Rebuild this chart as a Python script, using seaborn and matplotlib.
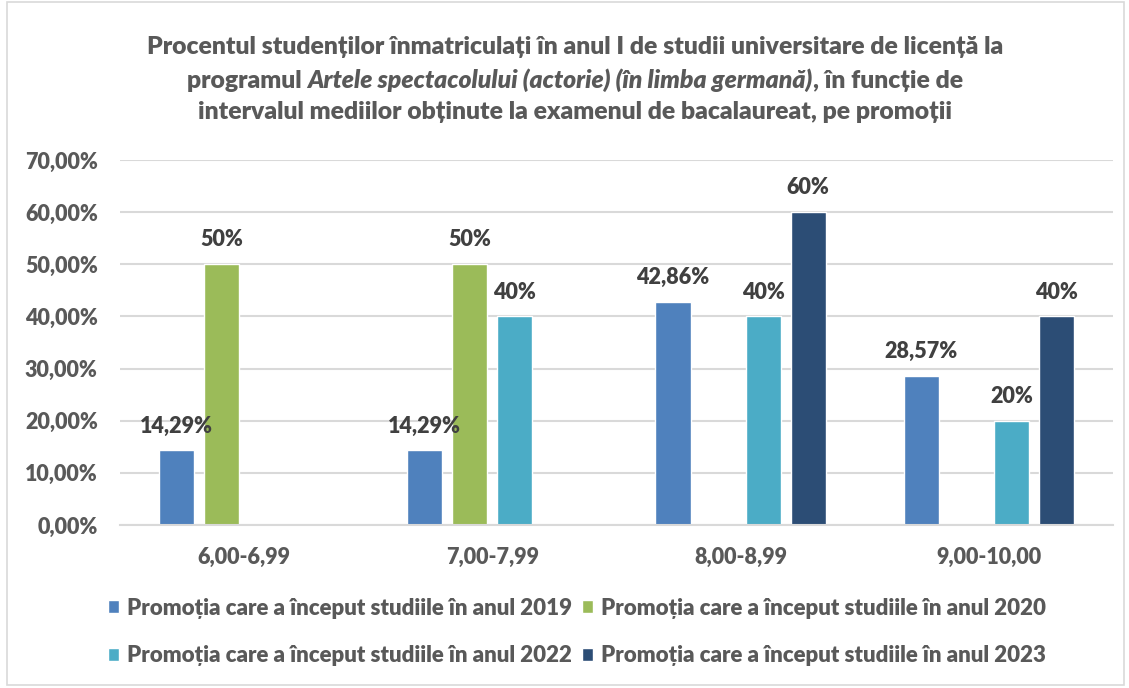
import numpy as np
import pandas as pd
import matplotlib
matplotlib.use("Agg")
import matplotlib.pyplot as plt
from matplotlib.ticker import FuncFormatter, MultipleLocator
from matplotlib.offsetbox import TextArea, HPacker, AnnotationBbox
from matplotlib.patches import Rectangle
import seaborn as sns

# ---- data ----
categories = ["6,00-6,99", "7,00-7,99", "8,00-8,99", "9,00-10,00"]
series = ["Promoția care a început studiile în anul 2019",
          "Promoția care a început studiile în anul 2020",
          "Promoția care a început studiile în anul 2022",
          "Promoția care a început studiile în anul 2023"]
val_2019 = [14.29, 14.29, 42.86, 28.57]
val_2020 = [50, 50, np.nan, np.nan]
val_2022 = [np.nan, 40, 40, 20]
val_2023 = [np.nan, np.nan, 60, 40]
colors = ["#4F81BD", "#9BBB59", "#4BACC6", "#2C4D75"]

rows = []
for s, vals in zip(series, [val_2019, val_2020, val_2022, val_2023]):
    for c, v in zip(categories, vals):
        rows.append({"interval": c, "promotia": s, "procent": v})
df = pd.DataFrame(rows)

# ---- style ----
sns.set_style("white")
plt.rcParams['font.family'] = ['Lato', 'DejaVu Sans']
W = "heavy"
plt.rcParams['font.weight'] = W
TXT = "#595959"
FS = 15.5

fig = plt.figure(figsize=(11.29, 6.88), dpi=100)
ax = fig.add_axes([120/1129, 1 - 525/688, 993/1129, 365/688])

sns.barplot(data=df, x="interval", y="procent", hue="promotia",
            order=categories, hue_order=series, palette=colors,
            width=0.726, gap=0.22, errorbar=None, ax=ax, saturation=1)

# data labels
def fmt_label(v):
    if abs(v - round(v)) < 1e-9:
        return f"{int(round(v))}%"
    return f"{v:.2f}".replace(".", ",") + "%"

for p in ax.patches:
    h = p.get_height()
    if h is None or np.isnan(h) or h == 0:
        continue
    ax.annotate(fmt_label(h), (p.get_x() + p.get_width() / 2, h),
                xytext=(0, 10), textcoords="offset points",
                ha="center", va="bottom", fontsize=FS,
                fontweight=W, color="#404040")

ax.set_ylim(0, 70)
ax.set_xlim(-0.5, 3.5)
ax.yaxis.set_major_locator(MultipleLocator(10))
ax.yaxis.set_major_formatter(FuncFormatter(lambda v, _: f"{v:.2f}".replace(".", ",") + "%"))
ax.grid(axis="y", color="#D9D9D9", linewidth=1.5)
ax.set_axisbelow(True)
for side in ["left", "right", "top"]:
    ax.spines[side].set_visible(False)
ax.spines["bottom"].set_color("#D9D9D9")
ax.spines["bottom"].set_linewidth(1.5)
ax.tick_params(axis="both", length=0, labelsize=FS, labelcolor=TXT)
ax.tick_params(axis="y", pad=16)
ax.tick_params(axis="x", pad=16)
for t in ax.get_xticklabels() + ax.get_yticklabels():
    t.set_fontweight(W)
ax.set_xlabel("")
ax.set_ylabel("")

# legend, row-major order
handles, labels = ax.get_legend_handles_labels()
ax.get_legend().remove()
order = [0, 2, 1, 3]
fig.legend([handles[i] for i in order], [labels[i] for i in order], ncol=2, loc="center",
           bbox_to_anchor=(577/1129, 1 - 632/688),
           frameon=False, labelcolor=TXT, handlelength=0.5,
           handleheight=0.5, handletextpad=0.35, columnspacing=0.45, labelspacing=1.2,
           prop={"weight": W, "size": 16})

# title (three lines, middle one partly italic)
TFS = 17.8
tkw = dict(fontsize=TFS, fontweight=W, color=TXT, ha="center", va="center")
fig.text(575/1129, 1 - 47/688,
         "Procentul studenților înmatriculați în anul I de studii universitare de licență la", **tkw)
fig.text(575/1129, 1 - 112/688,
         "intervalul mediilor obținute la examenul de bacalaureat, pe promoții", **tkw)
tp = dict(fontsize=TFS, fontweight=W, color=TXT)
line2 = HPacker(children=[
    TextArea("programul ", textprops=tp),
    TextArea("Artele spectacolului (actorie) (în limba germană)", textprops=dict(tp, fontstyle="italic")),
    TextArea(", în funcție de", textprops=tp),
], sep=0, pad=0, align="baseline")
ab = AnnotationBbox(line2, (575/1129, 1 - 80/688), xycoords="figure fraction",
                    frameon=False, box_alignment=(0.5, 0.5))
fig.add_artist(ab)

# chart border
fig.add_artist(Rectangle((0.006, 0.004), 0.99, 0.993, transform=fig.transFigure,
                         fill=False, edgecolor="#D9D9D9", linewidth=1.2))

fig.savefig("out.png", dpi=100)
